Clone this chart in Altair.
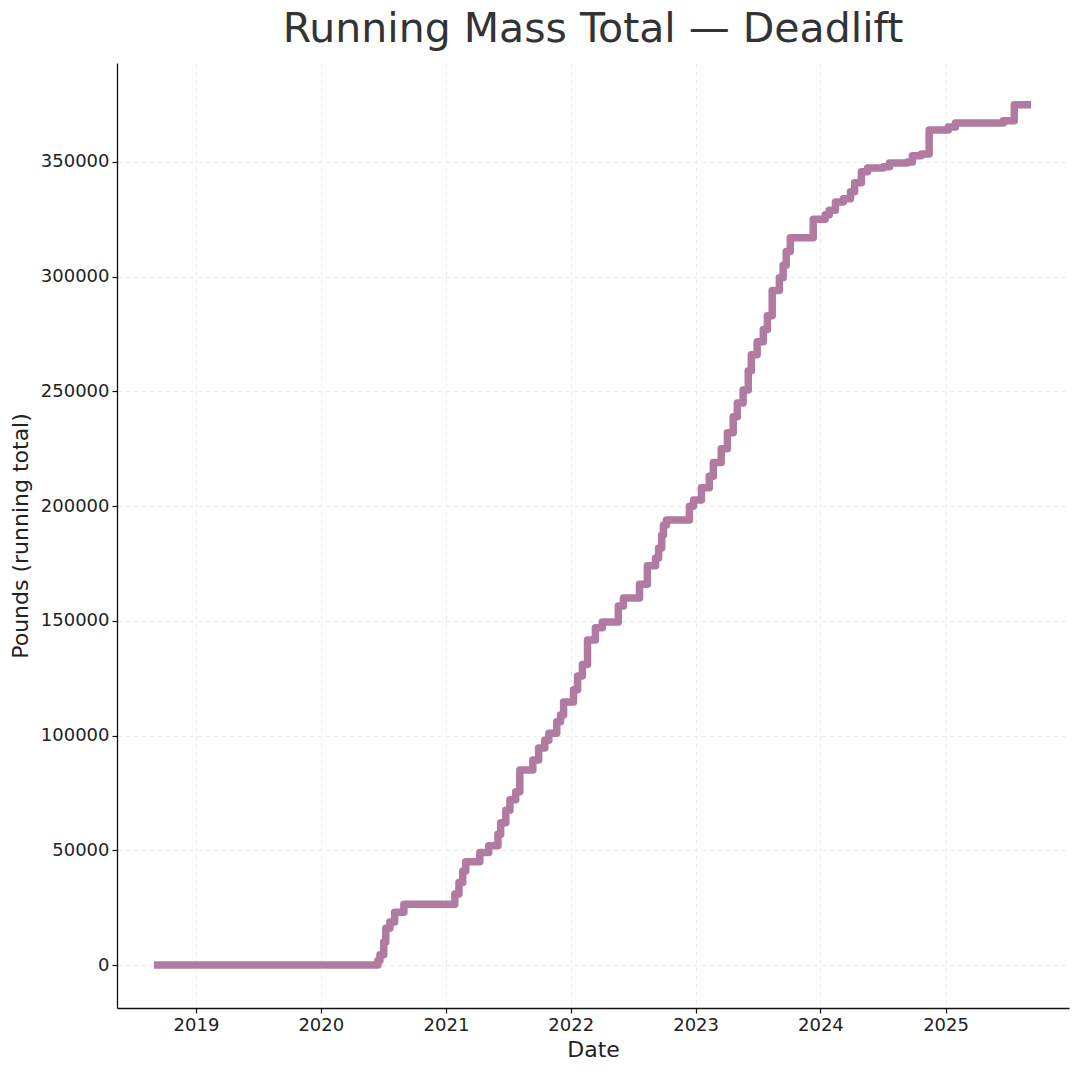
import altair as alt
import pandas as pd

dates = [
    "2018-09-11", "2020-06-16", "2020-06-22", "2020-07-03", "2020-07-09", "2020-07-21",
    "2020-08-04", "2020-08-31", "2020-10-11", "2021-01-27", "2021-02-08", "2021-02-19",
    "2021-02-28", "2021-04-10", "2021-05-06", "2021-06-02", "2021-06-10", "2021-06-25",
    "2021-07-07", "2021-07-24", "2021-08-05", "2021-09-12", "2021-09-29", "2021-10-17",
    "2021-10-29", "2021-11-21", "2021-12-02", "2021-12-11", "2022-01-09", "2022-01-21",
    "2022-02-04", "2022-02-19", "2022-03-14", "2022-04-03", "2022-05-20", "2022-06-04",
    "2022-07-21", "2022-08-13", "2022-09-06", "2022-09-15", "2022-09-24", "2022-09-29",
    "2022-10-08", "2022-12-14", "2022-12-26", "2023-01-18", "2023-02-10", "2023-02-22",
    "2023-03-17", "2023-04-04", "2023-04-21", "2023-05-03", "2023-05-20", "2023-06-04",
    "2023-06-13", "2023-06-30", "2023-07-18", "2023-07-30", "2023-08-13", "2023-09-03",
    "2023-09-14", "2023-09-23", "2023-10-05", "2023-12-11", "2024-01-15", "2024-01-27",
    "2024-02-14", "2024-03-08", "2024-03-29", "2024-04-10", "2024-04-30", "2024-05-18",
    "2024-07-03", "2024-07-21", "2024-09-11", "2024-09-26", "2024-10-22", "2024-11-14",
    "2025-01-09", "2025-01-30", "2025-06-19", "2025-07-21", "2025-08-28",
]

pounds = [
    0, 2000, 4500, 10000, 16000, 18700,
    23000, 26500, 26500, 31000, 36000, 41000,
    45000, 49000, 52000, 57000, 62000, 67500,
    72000, 75500, 85000, 89400, 94600, 98000,
    101000, 106000, 109000, 114600, 120000, 126000,
    131000, 141700, 147000, 149500, 156500, 160000,
    166000, 174000, 177400, 181800, 187400, 191800,
    194000, 200000, 202700, 208000, 213000, 219000,
    225000, 232000, 239000, 245000, 250600, 259000,
    266000, 271600, 277000, 283000, 294000, 299500,
    305000, 311000, 317000, 325000, 327000, 329000,
    332600, 334000, 337000, 341000, 345700, 347400,
    347900, 349600, 350000, 352700, 353500, 364000,
    365300, 367000, 368000, 375000, 375000,
]

df = pd.DataFrame({"date": dates, "pounds": pounds})

FONT = "DejaVu Sans"

line = alt.Chart(df).mark_line(
    interpolate="step-after", color="#b07aa1", strokeWidth=7.5,
    strokeCap="square", strokeJoin="round",
).encode(
    x=alt.X(
        "date:T",
        title="Date",
        scale=alt.Scale(domain=["2018-05-15", "2025-12-28"], nice=False),
        axis=alt.Axis(format="%Y", tickCount={"interval": "year", "step": 1}),
    ),
    y=alt.Y(
        "pounds:Q",
        title="Pounds (running total)",
        scale=alt.Scale(domain=[-18742, 393150], nice=False, zero=False),
        axis=alt.Axis(values=[0, 50000, 100000, 150000, 200000, 250000, 300000, 350000], format="d"),
    ),
)

chart = line.properties(
    width=952,
    height=945,
    title=alt.TitleParams(
        "Running Mass Total — Deadlift",
        font=FONT, fontSize=41, fontWeight="normal", color="#333333",
        anchor="middle", offset=12,
    ),
    autosize=alt.AutoSizeParams(type="none"),
    padding={"left": 109, "top": 55, "right": 3, "bottom": 56},
    background="white",
).configure_view(stroke=None).configure_axis(
    labelFont=FONT, titleFont=FONT, labelFontSize=18, titleFontSize=22,
    labelColor="#222222", titleColor="#222222", titleFontWeight="normal",
    domainColor="#111111", domainWidth=1.3, tickColor="#111111", tickSize=5, tickWidth=1.2,
    grid=True, gridColor="#e6e6e6", gridDash=[4, 4], gridWidth=0.8,
    labelPadding=3,
).configure_axisX(titlePadding=5).configure_axisY(titlePadding=8)

chart.save("out.html", embed_options={"renderer": "svg", "actions": False})
